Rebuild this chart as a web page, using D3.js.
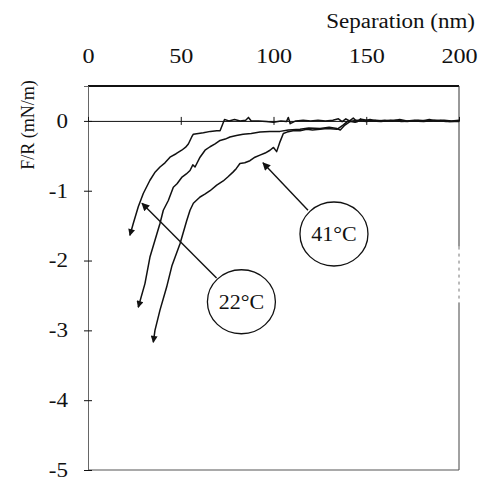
<!DOCTYPE html>
<html>
<head>
<meta charset="utf-8">
<title>Separation vs F/R</title>
<style>
body { margin: 0; background: #fff; }
svg { display: block; }
text { font-family: "Liberation Serif", Tinos, "Times New Roman", Times, "DejaVu Serif", serif; fill: #111; }
.curve { fill: none; stroke: #111; stroke-width: 1.5; stroke-linejoin: round; }
</style>
</head>
<body>
<svg width="493" height="483"></svg>
<script src="https://cdn.jsdelivr.net/npm/d3@7"></script>
<script>

// axis ticks
var sepTicks = [0, 50, 100, 150, 200];
var forceTicks = [0, -1, -2, -3, -4, -5];

// curves: [separation nm, F/R mN/m]
var curve22a = [
  [22.6, -1.64], [24.4, -1.47], [27.1, -1.23], [29.8, -1.04], [33.4, -0.85],
  [36.0, -0.74], [38.8, -0.66], [41.5, -0.60], [44.2, -0.52], [47.5, -0.47],
  [50.5, -0.42], [52.5, -0.38], [54.1, -0.33], [55.9, -0.23], [56.8, -0.19],
  [59.5, -0.18], [62.2, -0.17], [66.0, -0.15], [69.4, -0.14], [71.2, -0.14],
  [73.0, -0.02], [73.6, 0.02], [76, 0.00], [79, 0.02], [82, 0.00], [85, 0.01],
  [86.5, 0.05], [88, 0.00], [92, 0.00], [96, -0.01], [100, -0.02], [104, 0.00],
  [107, -0.01], [108, 0.05], [109, -0.04], [112, 0.00], [116, 0.01], [120, 0.00],
  [124, 0.01], [128, 0.00], [132, 0.01], [135, 0.03], [137, -0.01], [139, 0.03],
  [141, 0.00], [143, 0.04], [145, -0.01], [147, 0.03], [149, 0.00], [152, 0.02],
  [156, 0.00], [160, 0.01], [164, 0.00], [168, 0.02], [172, 0.00], [176, 0.01],
  [180, 0.00], [184, 0.02], [188, 0.00], [192, 0.01], [196, 0.00], [200, 0.01]
];

var curve22b = [
  [27.1, -2.67], [30.7, -2.33], [33.4, -1.95], [36.1, -1.71], [38.8, -1.47],
  [40.6, -1.28], [43.3, -1.14], [46.0, -0.95], [48.0, -0.90], [50.5, -0.81],
  [53.0, -0.76], [55.0, -0.71], [56.5, -0.63], [57.7, -0.66], [60.4, -0.52],
  [63.1, -0.42], [65.8, -0.37], [68.5, -0.33], [71.2, -0.28], [74.0, -0.26],
  [76.5, -0.23], [80.0, -0.21], [83.6, -0.19], [88.0, -0.18], [92.7, -0.16],
  [98.0, -0.15], [103.5, -0.15], [108.0, -0.13], [114.3, -0.12], [119.0, -0.10],
  [125.1, -0.11], [130.0, -0.09], [134.2, -0.11], [136.0, -0.13], [138.5, -0.06],
  [141.2, -0.01], [145, 0.01], [150, -0.01], [155, 0.01], [160, 0.00],
  [166, 0.01], [172, -0.01], [178, 0.01], [184, 0.00], [190, 0.01], [195, -0.01], [200, 0.00]
];

var curve41 = [
  [35.2, -3.17], [36.1, -3.00], [38.8, -2.71], [42.4, -2.38], [45.3, -2.07],
  [49.6, -1.76], [53.2, -1.43], [55.0, -1.28], [56.8, -1.18], [60.4, -1.09],
  [63.0, -1.05], [65.8, -1.00], [69.4, -0.92], [72.9, -0.86], [75.5, -0.80],
  [78.3, -0.73], [80.0, -0.68], [81.9, -0.61], [84.5, -0.60], [87.3, -0.57],
  [90.0, -0.52], [92.7, -0.49], [95.5, -0.46], [98.1, -0.42], [100.0, -0.38],
  [101.7, -0.44], [103.5, -0.30], [105.3, -0.18], [107.3, -0.16], [110.5, -0.14],
  [114.3, -0.14], [118.0, -0.12], [121.0, -0.13], [125.1, -0.12], [129.0, -0.11],
  [134.2, -0.12], [137.5, -0.06], [140.2, 0.00], [144, -0.02], [148, 0.02],
  [153, 0.00], [158, -0.01], [163, 0.01], [169, -0.01], [175, 0.00],
  [181, -0.01], [187, 0.01], [193, -0.01], [200, -0.01]
];

// labels in data units: [sep, force]
var label41 = {text: "41\u00B0C", at: [132.6, -1.62], from: [118.6, -1.28], to: [94.3, -0.60]};
var label22 = {text: "22\u00B0C", at: [82.7, -2.59], from: [69.3, -2.25], to: [29.1, -1.18]};

var serif = "'Liberation Serif', Tinos, 'Times New Roman', Times, 'DejaVu Serif', serif";
var svg = d3.select("svg");

var x = d3.scaleLinear().domain([0, 200]).range([88, 459]);
var y = d3.scaleLinear().domain([-5, 0.5]).range([470, 86]);

// the scanned type is a bit wider than Times
function widen(sel, k) {
  sel.each(function() {
    var w = this.getComputedTextLength();
    d3.select(this).attr("textLength", w * k).attr("lengthAdjust", "spacingAndGlyphs");
  });
}

var defs = svg.append("defs");
defs.append("marker")
  .attr("id", "tipSmall")
  .attr("viewBox", "0 0 10 10")
  .attr("refX", 9).attr("refY", 5)
  .attr("markerUnits", "userSpaceOnUse")
  .attr("markerWidth", 9).attr("markerHeight", 7)
  .attr("orient", "auto-start-reverse")
  .append("path").attr("d", "M0,0L10,5L0,10Z").attr("fill", "#111");
defs.append("marker")
  .attr("id", "tipBig")
  .attr("viewBox", "0 0 10 10")
  .attr("refX", 9).attr("refY", 5)
  .attr("markerUnits", "userSpaceOnUse")
  .attr("markerWidth", 13).attr("markerHeight", 8)
  .attr("orient", "auto")
  .append("path").attr("d", "M0,0L10,5L0,10Z").attr("fill", "#111");

// frame
svg.append("line")
  .attr("x1", x(0)).attr("x2", x(200))
  .attr("y1", y(0.5)).attr("y2", y(0.5))
  .attr("stroke", "#111").attr("stroke-width", 2);
svg.append("line")
  .attr("x1", x(200)).attr("x2", x(200))
  .attr("y1", y(0.5)).attr("y2", y(-1.8))
  .attr("stroke", "#333").attr("stroke-width", 1);
svg.append("line")
  .attr("x1", x(200)).attr("x2", x(200))
  .attr("y1", y(-1.8)).attr("y2", y(-2.6))
  .attr("stroke", "#777").attr("stroke-width", 1)
  .attr("stroke-dasharray", "3,4");
svg.append("line")
  .attr("x1", x(200)).attr("x2", x(200))
  .attr("y1", y(-2.6)).attr("y2", y(-5))
  .attr("stroke", "#444").attr("stroke-width", 1);
svg.append("line")
  .attr("x1", x(0)).attr("x2", x(200))
  .attr("y1", y(-5)).attr("y2", y(-5))
  .attr("stroke", "#555").attr("stroke-width", 1.2);

// left axis
var gy = svg.append("g")
  .attr("transform", "translate(" + x(0) + ",0)")
  .call(d3.axisLeft(y).tickValues(forceTicks).tickSizeOuter(0).tickSize(4).tickPadding(16)
    .tickFormat(function(d) { return String(d); }));
gy.attr("font-family", serif).attr("font-size", 20);
gy.select(".domain").attr("stroke", "#666");
gy.selectAll(".tick line").attr("x1", -4).attr("x2", 4).attr("stroke", "#111");
gy.selectAll(".tick text").attr("fill", "#111").style("font-family", serif).call(widen, 1.15);

// zero line with ticks
var g0 = svg.append("g")
  .attr("transform", "translate(0," + y(0) + ")")
  .call(d3.axisTop(x).tickValues([50, 100, 150]).tickSizeOuter(0).tickSize(4).tickFormat(""));
g0.select(".domain").attr("stroke", "#111");
g0.selectAll(".tick line").attr("y1", -4).attr("y2", 4).attr("stroke", "#111");

// top labels
var gx = svg.append("g")
  .attr("transform", "translate(0,63)")
  .call(d3.axisTop(x).tickValues(sepTicks).tickSize(0).tickPadding(0));
gx.attr("font-family", serif).attr("font-size", 21);
gx.select(".domain").remove();
gx.selectAll(".tick text").attr("fill", "#111").style("font-family", serif).call(widen, 1.15);

svg.append("text")
  .attr("x", 475).attr("y", 28)
  .attr("text-anchor", "end")
  .style("font-family", serif)
  .style("font-size", "20px")
  .text("Separation (nm)")
  .call(widen, 1.15);

svg.append("text")
  .attr("transform", "translate(34,125) rotate(-90)")
  .attr("text-anchor", "middle")
  .style("font-family", serif)
  .style("font-size", "18px")
  .text("F/R (mN/m)");

// curves
var line = d3.line()
  .x(function(d) { return x(d[0]); })
  .y(function(d) { return y(d[1]); });

[curve22a, curve22b, curve41].forEach(function(c) {
  svg.append("path")
    .datum(c)
    .attr("class", "curve")
    .attr("d", line)
    .attr("marker-start", "url(#tipSmall)");
});

// annotations
[label41, label22].forEach(function(l) {
  svg.append("line")
    .attr("x1", x(l.from[0])).attr("y1", y(l.from[1]))
    .attr("x2", x(l.to[0])).attr("y2", y(l.to[1]))
    .attr("stroke", "#111").attr("stroke-width", 1.4)
    .attr("marker-end", "url(#tipBig)");
  svg.append("ellipse")
    .attr("cx", x(l.at[0])).attr("cy", y(l.at[1]))
    .attr("rx", 34).attr("ry", 32)
    .attr("fill", "#fff").attr("stroke", "#111").attr("stroke-width", 1.3);
  svg.append("text")
    .attr("x", x(l.at[0])).attr("y", y(l.at[1]))
    .attr("text-anchor", "middle")
    .attr("dy", "0.35em")
    .style("font-family", serif)
    .style("font-size", "20px")
    .text(l.text)
    .call(widen, 1.1);
});

</script>
</body>
</html>
